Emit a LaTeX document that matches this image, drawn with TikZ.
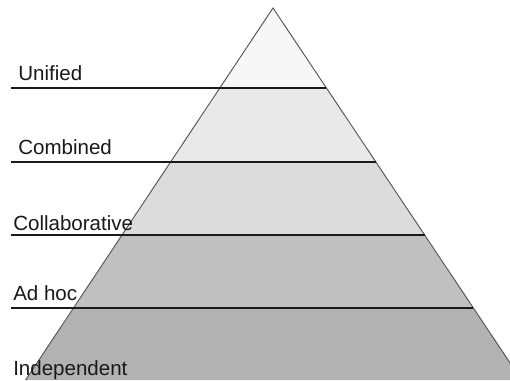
\documentclass[tikz,border=0pt]{standalone}
\usepackage{fontspec}
\setmainfont{Liberation Sans}
\definecolor{bandA}{HTML}{F7F7F7}
\definecolor{bandB}{HTML}{E9E9E9}
\definecolor{bandC}{HTML}{DCDCDC}
\definecolor{bandD}{HTML}{C0C0C0}
\definecolor{bandE}{HTML}{B2B2B2}
\definecolor{edgegray}{HTML}{555555}
\definecolor{levelline}{HTML}{1A1A1A}
\tikzset{
  lvl/.style={anchor=base west, inner sep=0pt, font=\fontsize{15.4}{18}\selectfont, text=black!90},
  levelrule/.style={draw=levelline, line width=1.5pt},
  pyredge/.style={draw=edgegray, line width=0.7pt}
}
\begin{document}
\begin{tikzpicture}[x=0.75pt,y=-0.75pt]
\useasboundingbox (0,0) rectangle (510,380);
\fill[white] (0,0) rectangle (510,380);
\coordinate (apex) at (273,8);
\coordinate (bl) at (25.6,380);
\coordinate (br) at (521.5,380);
\begin{scope}
  \clip (apex) -- (bl) -- (br) -- cycle;
  \fill[bandA] (0,0) rectangle (520,88);
  \fill[bandB] (0,88) rectangle (520,162);
  \fill[bandC] (0,162) rectangle (520,235);
  \fill[bandD] (0,235) rectangle (520,308);
  \fill[bandE] (0,308) rectangle (520,381);
\end{scope}
\draw[pyredge] (bl) -- (apex) -- (br);
\coordinate (r1) at (326.4,88);
\coordinate (r2) at (375.9,162);
\coordinate (r3) at (424.6,235);
\coordinate (r4) at (473.4,308);
\coordinate (l1) at (11,88);
\coordinate (l2) at (11,162);
\coordinate (l3) at (11,235);
\coordinate (l4) at (11,308);
\draw[levelrule] (l1) -- (r1);
\draw[levelrule] (l2) -- (r2);
\draw[levelrule] (l3) -- (r3);
\draw[levelrule] (l4) -- (r4);
\node[lvl] (unified) at (18,80) {Unified};
\node[lvl] (combined) at (18,154) {Combined};
\node[lvl] (collab) at (13,230) {Collaborative};
\node[lvl] (adhoc) at (13,300) {Ad hoc};
\node[lvl] (indep) at (13,375) {Independent};
\end{tikzpicture}
\end{document}
